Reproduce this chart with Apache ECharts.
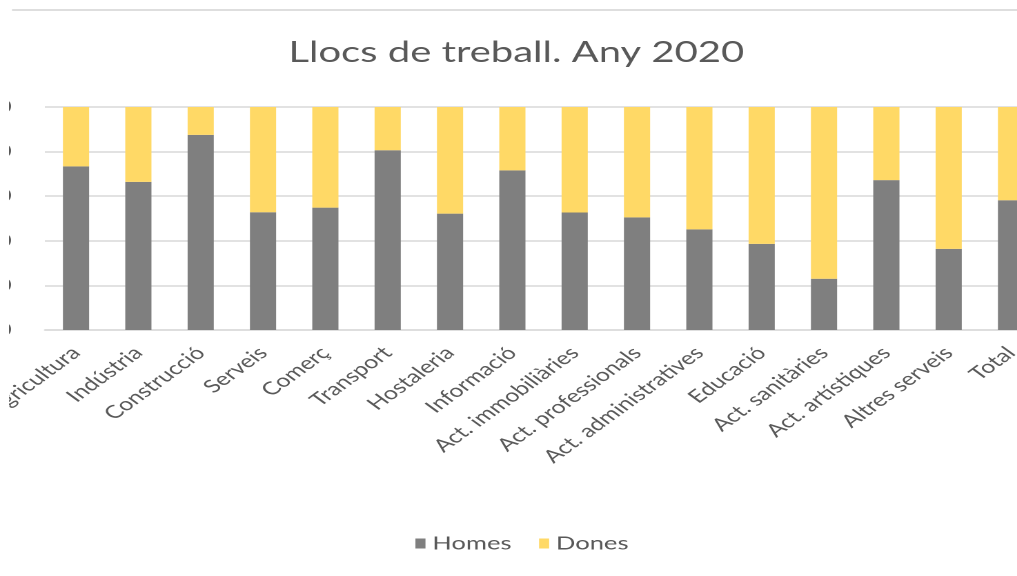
<!DOCTYPE html>
<html>
<head>
<meta charset="utf-8">
<script src="https://cdn.jsdelivr.net/npm/echarts@6/dist/echarts.min.js"></script>
<style>
  html, body { margin: 0; padding: 0; background: #ffffff; overflow: hidden; }
  #page { width: 1017px; height: 576px; position: relative; background: #ffffff; }
  #wrap { position: absolute; left: 9px; top: 0; width: 1008px; height: 576px; overflow: hidden; }
  #chart { position: absolute; left: -9px; top: 0; width: 737px; height: 576px; transform: scaleX(1.38); transform-origin: 0 0; }
</style>
</head>
<body>
<div id="page"><div id="wrap"><div id="chart"></div></div></div>
<script>
const categories = ['Agricultura', 'Indústria', 'Construcció', 'Serveis', 'Comerç', 'Transport',
  'Hostaleria', 'Informació', 'Act. immobiliàries', 'Act. professionals', 'Act. administratives',
  'Educació', 'Act. sanitàries', 'Act. artístiques', 'Altres serveis', 'Total'];
const homes = [73.4, 66.4, 87.5, 52.8, 54.9, 80.6, 52.2, 71.6, 52.7, 50.5, 45.1, 38.6, 23.0, 67.2, 36.4, 58.2];
const dones = [26.6, 33.6, 12.5, 47.2, 45.1, 19.4, 47.8, 28.4, 47.3, 49.5, 54.9, 61.4, 77.0, 32.8, 63.6, 41.8];
const yTicks = [0, 20, 40, 60, 80, 100];
const titleText = 'Llocs de treball. Any 2020';
const seriesNames = ['Homes', 'Dones'];

const chart = echarts.init(document.getElementById('chart'), null, { renderer: 'canvas', devicePixelRatio: 2 });
const FONT = 'Lato';
const TXT = '#595959';
chart.setOption({
  animation: false,
  backgroundColor: '#ffffff',
  title: {
    text: titleText,
    left: 204,
    top: 33,
    textStyle: { fontFamily: FONT, fontSize: 29, fontWeight: 'normal', color: TXT }
  },
  legend: {
    data: seriesNames,
    left: 301,
    top: 534,
    padding: 0,
    itemGap: 20,
    itemWidth: 7.3,
    itemHeight: 10,
    icon: 'rect',
    textStyle: { fontFamily: FONT, fontSize: 18.5, color: TXT }
  },
  graphic: [{
    type: 'line',
    shape: { x1: 8.7, y1: 10, x2: 737, y2: 10 },
    style: { stroke: '#dedede', lineWidth: 2 },
    silent: true
  }],
  grid: { left: 32.5, right: -18.2, top: 107, bottom: 246, containLabel: false, outerBoundsMode: 'none' },
  xAxis: {
    type: 'category',
    data: categories,
    axisLine: { show: true, lineStyle: { color: '#d9d9d9', width: 1.5 } },
    axisTick: { show: false },
    axisLabel: {
      interval: 0,
      rotate: 45,
      margin: 20,
      fontFamily: FONT,
      fontSize: 18,
      color: TXT
    }
  },
  yAxis: {
    type: 'value',
    min: 0,
    max: 100,
    interval: 20,
    axisLine: { show: false },
    axisTick: { show: false },
    splitLine: { lineStyle: { color: '#d9d9d9', width: 1.5 } },
    axisLabel: {
      margin: 24,
      fontFamily: FONT,
      fontSize: 17,
      color: TXT,
      formatter: function (v) { return yTicks.indexOf(v) >= 0 ? String(v) : ''; }
    }
  },
  series: [
    {
      name: seriesNames[0],
      type: 'bar',
      stack: 'total',
      barWidth: '42%',
      data: homes,
      itemStyle: { color: '#7f7f7f' }
    },
    {
      name: seriesNames[1],
      type: 'bar',
      stack: 'total',
      barWidth: '42%',
      data: dones,
      itemStyle: { color: '#ffd966' }
    }
  ]
});
</script>
</body>
</html>
